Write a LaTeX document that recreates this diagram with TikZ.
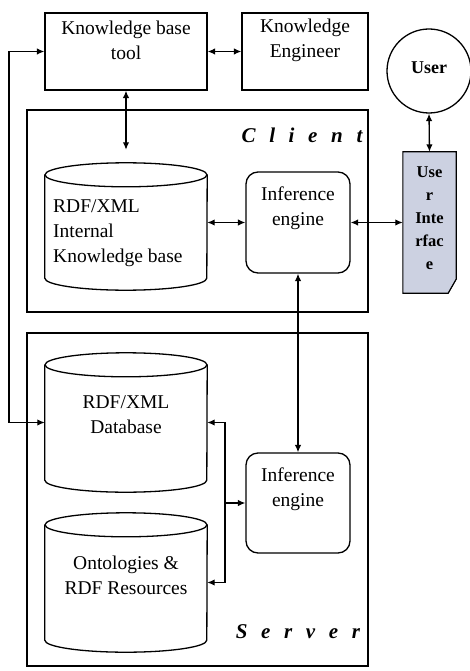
\documentclass[tikz,border=0pt]{standalone}
\usepackage{fontspec}
\setmainfont{Liberation Serif}
\usetikzlibrary{arrows.meta}
\definecolor{uifill}{RGB}{204,209,225}

% cylinder outline drawn around an (invisible) rectangular node
\newcommand{\drawcyl}[1]{%
  \draw[box] ([yshift=-12pt]#1.north west) -- ([yshift=12pt]#1.south west)
    arc[start angle=180,end angle=360,x radius=81pt,y radius=12pt]
    -- ([yshift=-12pt]#1.north east);
  \draw[box] ([yshift=-12pt]#1.north) ellipse[x radius=81pt,y radius=12pt];}

\begin{document}
\begin{tikzpicture}[x=1pt,y=-1pt,
  box/.style={draw,line width=1.3pt},
  area/.style={rectangle,inner sep=0pt},
  conn/.style={line width=1.3pt},
  bi/.style={conn,{Latex[length=7.5pt,width=6.5pt]}-{Latex[length=7.5pt,width=6.5pt]}},
  uni/.style={conn,-{Latex[length=7.5pt,width=6.5pt]}},
  txt/.style={font=\fontsize{19.5}{25}\selectfont,align=center,inner sep=0pt},
  uitxt/.style={font=\fontsize{16.5}{23}\selectfont\bfseries,align=center,inner sep=0pt},
  tag/.style={font=\fontsize{21}{25}\selectfont\bfseries\itshape\addfontfeatures{LetterSpace=65},inner sep=0pt}]
\useasboundingbox (0,0) rectangle (469,671);

% top row
\node[area,box,minimum width=162pt,minimum height=77pt] (kbt) at (126,51.5) {};
\node[txt] (kbtt) at (126,40) {Knowledge base\\tool};
\node[area,box,minimum width=126pt,minimum height=77pt] (ke) at (305,51.5) {};
\node[txt] (ket) at (305,40) {Knowledge\\Engineer};
\node[circle,box,minimum size=84pt,inner sep=0pt] (user) at (429,71) {};
\node[txt,font=\fontsize{18}{22}\selectfont\bfseries] (usert) at (429,68) {User};

% client
\node[area,box,minimum width=341pt,minimum height=202pt] (client) at (197.5,211) {};
\node[tag] (clientt) at (302,135) {Client};
\node[area,minimum width=162pt,minimum height=127pt] (kb) at (126,226.5) {};
\drawcyl{kb}
\node[txt,align=left,anchor=west] (kbtx) at (53,233) {RDF/XML\\Internal\\Knowledge base};
\node[area,box,rounded corners=12pt,minimum width=104pt,minimum height=101pt] (ie1) at (298,222.5) {};
\node[txt] (ie1t) at (298,208) {Inference\\engine};

% user interface sheet
\node[area,minimum width=53pt,minimum height=141pt] (ui) at (429.5,222.5) {};
\draw[box,line width=1.1pt,fill=uifill] (ui.north west) -- (ui.north east)
  -- ([yshift=14pt]ui.south east) -- ([xshift=-8pt]ui.south east)
  -- (ui.south west) -- cycle;
\draw[line width=0.8pt] ([yshift=14pt]ui.south east) -- ([xshift=-4pt,yshift=7pt]ui.south east)
  -- ([xshift=-8pt]ui.south east);
\node[uitxt] (uit) at (429.5,218) {Use\\r\\Inte\\rfac\\e};

% server
\node[area,box,minimum width=341pt,minimum height=333pt] (server) at (197.5,499.5) {};
\node[tag] (servert) at (298,632) {Server};
\node[area,minimum width=162pt,minimum height=139pt] (db) at (126,422.5) {};
\drawcyl{db}
\node[txt] (dbt) at (126,415) {RDF/XML\\Database};
\node[area,minimum width=162pt,minimum height=139pt] (onto) at (126,582.5) {};
\drawcyl{onto}
\node[txt] (ontot) at (126,575) {Ontologies \&\\RDF Resources};
\node[area,box,rounded corners=12pt,minimum width=104pt,minimum height=100pt] (ie2) at (298,503) {};
\node[txt] (ie2t) at (298,489) {Inference\\engine};

% connectors
\coordinate (lp) at (9,0);
\coordinate (br) at (225,0);
\draw[bi] (kbt.east) -- (ke.west);
\draw[bi,shorten >=13pt] (kbt.south) -- (kb.north);
\draw[bi] (user.south) -- (ui.north);
\draw[bi] (ie1.west -| kb.east) -- (ie1.west);
\draw[bi] (ie1.east) -- (ui.west);
\draw[bi] (ie1.south) -- (ie2.north);
\draw[bi] (kbt.west) -- (kbt.west -| lp) -- (db.west -| lp) -- (db.west);
\draw[bi] (db.east) -- (db.east -| br) -- (onto.east -| br) -- (onto.east);
\draw[uni] (ie2.west -| br) -- (ie2.west);
\end{tikzpicture}
\end{document}
